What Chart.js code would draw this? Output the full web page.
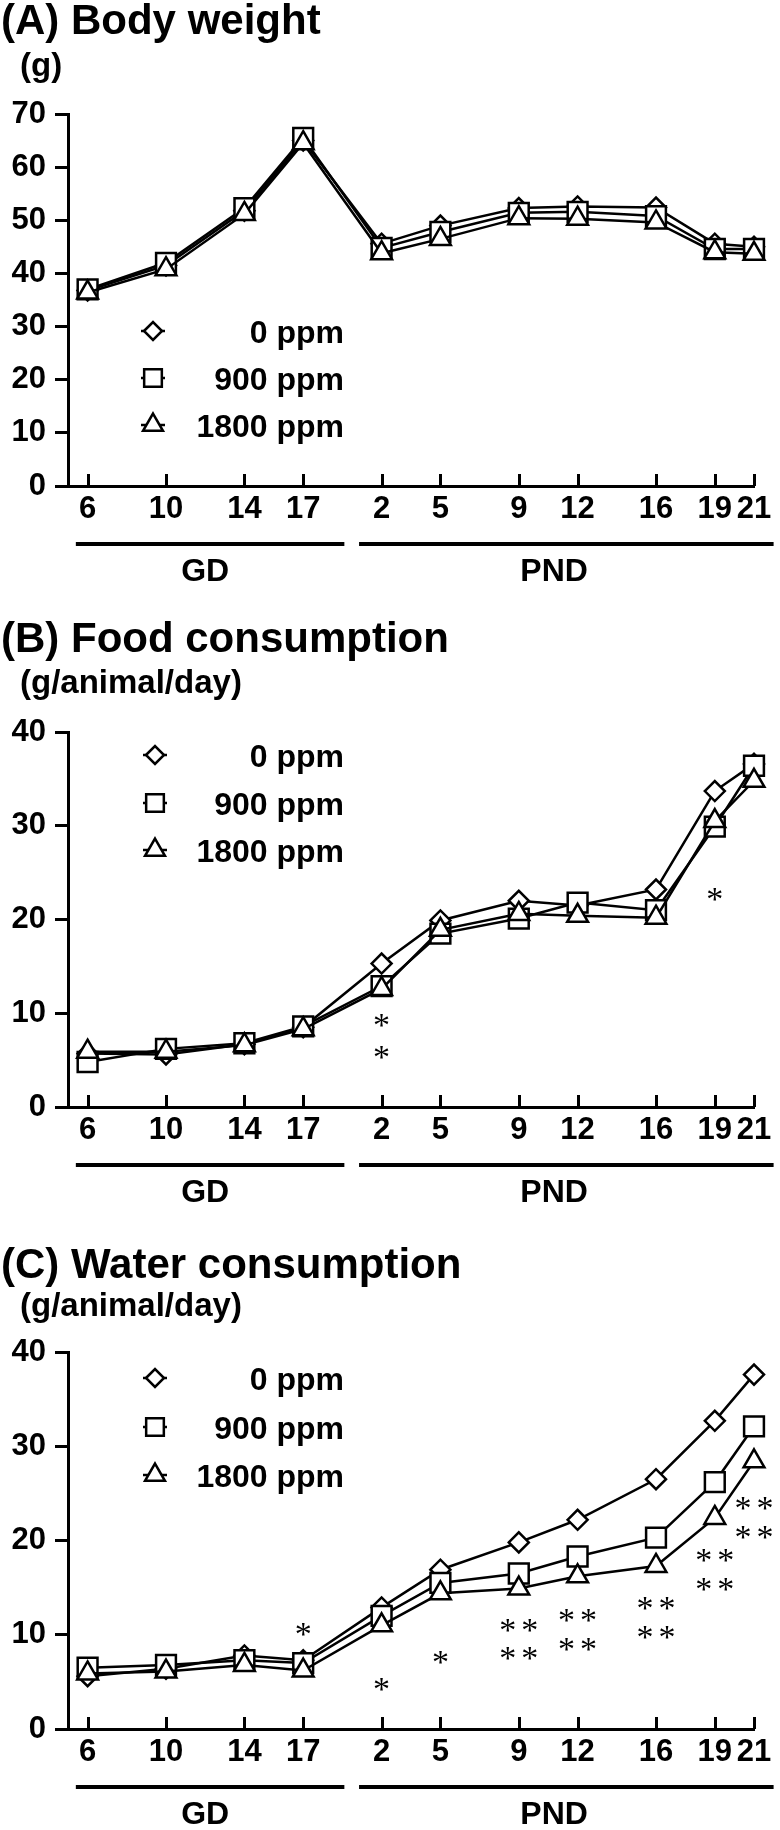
<!DOCTYPE html>
<html>
<head>
<meta charset="utf-8">
<script src="https://cdn.jsdelivr.net/npm/chart.js@4.4.1/dist/chart.umd.min.js"></script>
<style>
  body { margin: 0; background: #fff; }
  #wrap { position: relative; width: 780px; height: 1830px; }
  canvas { position: absolute; left: 0; }
</style>
</head>
<body>
<div id="wrap">
  <canvas id="chartA" width="780" height="600" style="top:0px"></canvas>
  <canvas id="chartB" width="780" height="615" style="top:600px"></canvas>
  <canvas id="chartC" width="780" height="615" style="top:1215px"></canvas>
</div>
<script>
// Days: GD 6..17 then PND 2..21 (PND day p sits at p + 19 on a continuous day axis)
var dayLabels = ["6", "10", "14", "17", "2", "5", "9", "12", "16", "19", "21"];
var dayPos = [6, 10, 14, 17, 21, 24, 28, 31, 35, 38, 40];

var seriesNames = ["0 ppm", "900 ppm", "1800 ppm"];

// (A) Body weight, g
var bw0 = [36.8, 41.5, 51.8, 65.0, 45.6, 49.0, 52.3, 52.6, 52.4, 45.6, 45.0];
var bw900 = [37.0, 42.0, 52.3, 65.5, 44.8, 47.8, 51.4, 51.6, 50.8, 44.6, 44.6];
var bw1800 = [36.4, 40.8, 51.2, 64.5, 43.8, 46.5, 50.4, 50.3, 49.6, 44.0, 43.7];

// (B) Food consumption, g/animal/day
var food0 = [5.7, 5.6, 6.7, 8.5, 15.3, 19.9, 22.0, 21.5, 23.2, 33.7, 36.6];
var food900 = [4.8, 6.2, 6.8, 8.6, 12.9, 18.5, 20.1, 21.8, 21.0, 29.9, 36.4];
var food1800 = [5.9, 5.9, 6.6, 8.3, 12.6, 18.9, 20.6, 20.4, 20.2, 30.5, 34.8];

// (C) Water consumption, g/animal/day
var water0 = [5.6, 6.4, 7.8, 7.3, 12.9, 16.9, 19.8, 22.2, 26.5, 32.7, 37.6];
var water900 = [6.5, 6.8, 7.3, 7.0, 12.0, 15.5, 16.5, 18.3, 20.3, 26.2, 32.1];
var water1800 = [5.9, 6.1, 6.8, 6.2, 11.0, 14.4, 14.9, 16.2, 17.3, 22.4, 28.4];

// significance marks (day position, value, text)
var foodStarPos = [21, 21, 38];
var foodStarVal = [9.2, 5.8, 22.7];
var foodStarText = ["*", "*", "*"];

var waterStarPos = [17, 21, 24, 28, 28, 31, 31, 35, 35, 38, 38, 40, 40];
var waterStarVal = [10.6, 4.7, 7.6, 11.0, 8.0, 12.0, 9.0, 13.3, 10.2, 18.4, 15.3, 23.9, 20.8];
var waterStarText = ["*", "*", "*", "**", "**", "**", "**", "**", "**", "**", "**", "**", "**"];

// GD / PND brackets under the axis
var groupNames = ["GD", "PND"];
var groupFrom = [5.4, 19.85];
var groupTo = [19.1, 41.0];
var groupLabelAt = [12.0, 29.8];

var SANS = '"Liberation Sans", Arial, Helvetica, sans-serif';
var SERIF = '"Liberation Serif", "Times New Roman", serif';
var pointStyles = ["rectRot", "rect", "triangle"];
var pointRadii = [10, 14, 12];

function drawMarker(ctx, style, cx, cy, r) {
  ctx.beginPath();
  if (style === "rectRot") {
    ctx.moveTo(cx - r, cy);
    ctx.lineTo(cx, cy - r);
    ctx.lineTo(cx + r, cy);
    ctx.lineTo(cx, cy + r);
    ctx.closePath();
  } else if (style === "rect") {
    var s = r * Math.SQRT1_2;
    ctx.rect(cx - s, cy - s, 2 * s, 2 * s);
  } else {
    var a = 0;
    ctx.moveTo(cx + Math.sin(a) * r, cy - Math.cos(a) * r);
    a += 2 * Math.PI / 3;
    ctx.lineTo(cx + Math.sin(a) * r, cy - Math.cos(a) * r);
    a += 2 * Math.PI / 3;
    ctx.lineTo(cx + Math.sin(a) * r, cy - Math.cos(a) * r);
    ctx.closePath();
  }
  ctx.fillStyle = "#fff";
  ctx.fill();
  ctx.stroke();
}

var decorations = {
  id: "decorations",
  afterDraw: function (chart, args, opts) {
    var ctx = chart.ctx;
    var xs = chart.scales.x;
    var ys = chart.scales.y;
    var area = chart.chartArea;
    ctx.save();
    ctx.fillStyle = "#000";
    ctx.strokeStyle = "#000";

    // title and unit
    ctx.textAlign = "left";
    ctx.textBaseline = "alphabetic";
    ctx.font = "bold 42px " + SANS;
    ctx.fillText(opts.title, 1, opts.titleY);
    ctx.font = "bold 33px " + SANS;
    ctx.fillText(opts.unit, 20, opts.unitY);

    // inward tick marks on the day axis
    ctx.lineWidth = 3;
    dayPos.forEach(function (v) {
      var px = Math.round(xs.getPixelForValue(v)) + 0.5;
      ctx.beginPath();
      ctx.moveTo(px, area.bottom);
      ctx.lineTo(px, area.bottom - 12);
      ctx.stroke();
    });

    // GD / PND brackets
    ctx.lineWidth = 4;
    ctx.font = "bold 32px " + SANS;
    ctx.textAlign = "center";
    ctx.textBaseline = "middle";
    groupNames.forEach(function (name, i) {
      var yb = area.bottom + 58;
      ctx.beginPath();
      ctx.moveTo(xs.getPixelForValue(groupFrom[i]), yb);
      ctx.lineTo(xs.getPixelForValue(groupTo[i]), yb);
      ctx.stroke();
      ctx.fillText(name, xs.getPixelForValue(groupLabelAt[i]), area.bottom + 86);
    });

    // legend
    ctx.lineWidth = 2.5;
    ctx.font = "bold 32px " + SANS;
    ctx.textAlign = "right";
    ctx.textBaseline = "alphabetic";
    seriesNames.forEach(function (name, i) {
      var ly = opts.legendY[i];
      ctx.beginPath();
      ctx.moveTo(opts.legendX - 12, ly);
      ctx.lineTo(opts.legendX + 12, ly);
      ctx.stroke();
      drawMarker(ctx, pointStyles[i], opts.legendX, ly, [9, 12.5, 11.5][i]);
      ctx.fillStyle = "#000";
      ctx.fillText(name, 344, ly + 11.5);
    });

    // significance marks
    ctx.font = "34px " + SERIF;
    ctx.textAlign = "center";
    ctx.textBaseline = "alphabetic";
    var m = ctx.measureText("*");
    var off = (m.actualBoundingBoxAscent - m.actualBoundingBoxDescent) / 2;
    (opts.starPos || []).forEach(function (p, i) {
      var cx = xs.getPixelForValue(p);
      var cy = ys.getPixelForValue(opts.starVal[i]) + off;
      var t = opts.starText[i];
      for (var k = 0; k < t.length; k++) {
        ctx.fillText(t[k], cx + (k - (t.length - 1) / 2) * 22, cy);
      }
    });
    ctx.restore();
  }
};

function makeChart(id, cfg) {
  var datasets = cfg.series.map(function (vals, i) {
    return {
      label: seriesNames[i],
      data: dayPos.map(function (p, k) { return { x: p, y: vals[k] }; }),
      borderColor: "#000",
      borderWidth: 2.5,
      pointStyle: pointStyles[i],
      pointRadius: pointRadii[i],
      pointBackgroundColor: "#fff",
      pointBorderColor: "#000",
      pointBorderWidth: 2.5,
      tension: 0,
      clip: false,
      order: 3 - i
    };
  });

  return new Chart(document.getElementById(id), {
    type: "line",
    data: { datasets: datasets },
    options: {
      responsive: false,
      animation: false,
      layout: { padding: { top: cfg.areaTop, left: 0, right: 26, bottom: 0 } },
      plugins: {
        legend: { display: false },
        tooltip: { enabled: false },
        decorations: {
          title: cfg.title,
          unit: cfg.unit,
          titleY: cfg.titleY,
          unitY: cfg.unitY,
          legendX: cfg.legendX,
          legendY: cfg.legendY,
          starPos: cfg.starPos,
          starVal: cfg.starVal,
          starText: cfg.starText
        }
      },
      scales: {
        x: {
          type: "linear",
          min: 5,
          max: 40,
          afterBuildTicks: function (scale) {
            scale.ticks = dayPos.map(function (v) { return { value: v }; });
          },
          afterFit: function (scale) {
            scale.height = cfg.height - cfg.areaBottom;
          },
          grid: { display: true, drawOnChartArea: false, drawTicks: false },
          border: { display: true, color: "#000", width: 3 },
          ticks: {
            autoSkip: false,
            maxRotation: 0,
            padding: 5,
            color: "#000",
            font: { family: SANS, size: 31, weight: "bold" },
            callback: function (value, index) { return dayLabels[index]; }
          }
        },
        y: {
          min: 0,
          max: cfg.yMax,
          afterFit: function (scale) { scale.width = 68; },
          grid: {
            drawOnChartArea: false,
            drawTicks: true,
            tickLength: 13,
            lineWidth: 3,
            tickWidth: 3,
            color: "#000"
          },
          border: { display: true, color: "#000", width: 3 },
          ticks: {
            stepSize: 10,
            padding: 9,
            color: "#000",
            font: { family: SANS, size: 31, weight: "bold" }
          }
        }
      }
    },
    plugins: [decorations]
  });
}

makeChart("chartA", {
  title: "(A) Body weight",
  unit: "(g)",
  titleY: 34,
  unitY: 76,
  yMax: 70,
  series: [bw0, bw900, bw1800],
  height: 600,
  areaTop: 114,
  areaBottom: 486,
  legendX: 153,
  legendY: [331, 378, 425]
});

makeChart("chartB", {
  title: "(B) Food consumption",
  unit: "(g/animal/day)",
  titleY: 52,
  unitY: 93,
  yMax: 40,
  series: [food0, food900, food1800],
  height: 615,
  areaTop: 132,
  areaBottom: 507,
  legendX: 155,
  legendY: [155, 203, 250],
  starPos: foodStarPos,
  starVal: foodStarVal,
  starText: foodStarText
});

makeChart("chartC", {
  title: "(C) Water consumption",
  unit: "(g/animal/day)",
  titleY: 63,
  unitY: 101,
  yMax: 40,
  series: [water0, water900, water1800],
  height: 615,
  areaTop: 137,
  areaBottom: 514,
  legendX: 155,
  legendY: [163, 212, 260],
  starPos: waterStarPos,
  starVal: waterStarVal,
  starText: waterStarText
});
</script>
</body>
</html>
